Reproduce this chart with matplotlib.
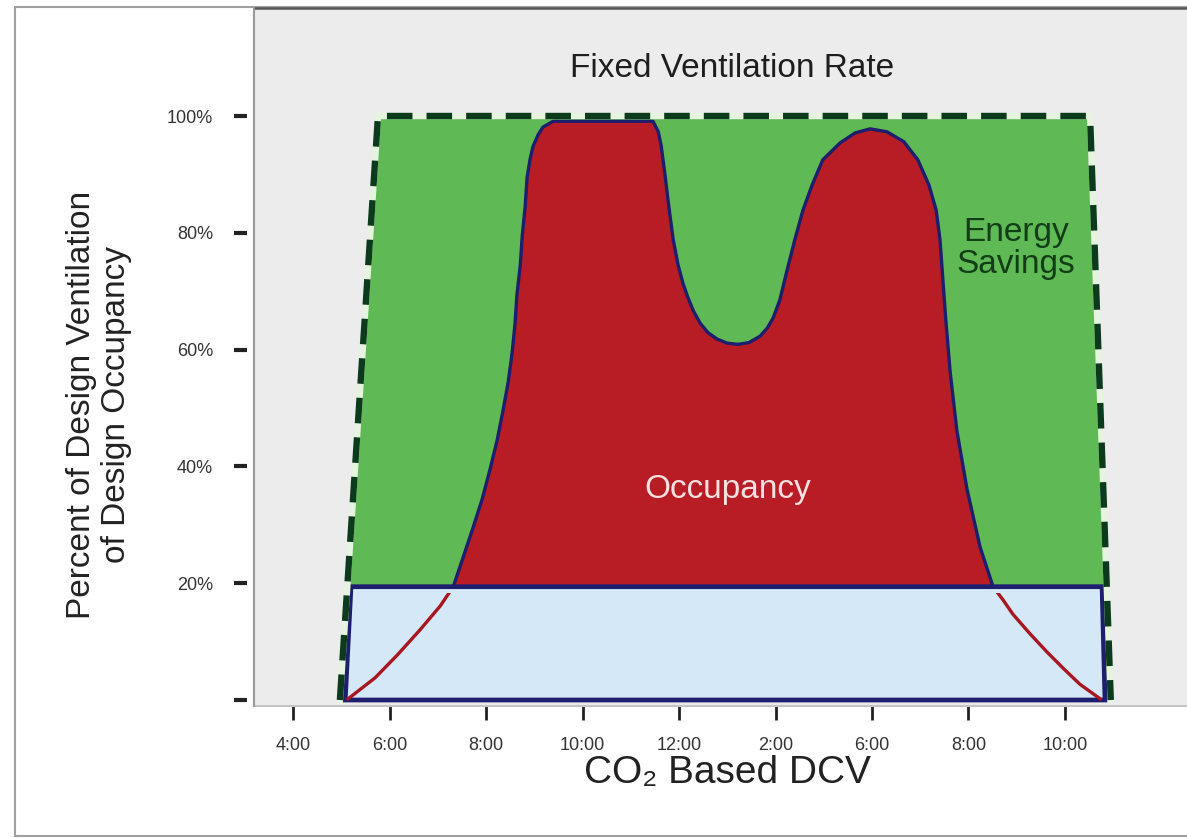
import matplotlib
matplotlib.use('Agg')
import matplotlib.pyplot as plt
from matplotlib.patches import Polygon, Rectangle

plt.rcParams['font.family'] = ['Liberation Sans', 'DejaVu Sans']

# x axis: hours of the day, the labels are written as in the original
tick_hours = [4, 6, 8, 10, 12, 14, 16, 18, 20]
tick_labels = ['4:00', '6:00', '8:00', '10:00', '12:00', '2:00', '6:00', '8:00', '10:00']
pct_ticks = [0, 20, 40, 60, 80, 100]
pct_labels = ['', '20%', '40%', '60%', '80%', '100%']

# occupancy curve (hour, percent)
occ_hours = [5.14, 5.70, 6.16, 6.63, 7.05, 7.32, 7.52, 7.73, 7.92, 8.08,
             8.23, 8.35, 8.46, 8.54, 8.60, 8.64, 8.71, 8.75, 8.81, 8.85,
             8.91, 8.97, 9.08, 9.18, 9.39, 10.36, 11.46, 11.57, 11.63, 11.71,
             11.79, 11.88, 11.98, 12.08, 12.18, 12.30, 12.44, 12.60, 12.79, 13.00,
             13.22, 13.45, 13.68, 13.83, 13.95,
             14.09, 14.24, 14.40, 14.57, 14.76, 14.98, 15.34, 15.65, 15.96, 16.31,
             16.66, 16.95, 17.18, 17.33, 17.41, 17.47, 17.53, 17.62, 17.76, 17.97,
             18.24, 18.51, 18.72, 18.92, 19.28, 19.63, 19.98, 20.31, 20.73]
occ_pct = [0.2, 3.8, 7.7, 12.0, 16.1, 19.4, 24.3, 29.5, 34.4, 39.4,
           44.5, 49.5, 54.5, 59.4, 64.4, 69.4, 74.5, 79.5, 84.4, 89.4,
           92.5, 94.7, 96.8, 98.1, 99.1, 99.1, 99.1, 97.3, 94.9, 89.9,
           84.4, 78.8, 74.5, 71.4, 69.0, 66.6, 64.5, 62.9, 61.8, 61.1,
           60.9, 61.2, 62.3, 63.7, 65.4,
           68.5, 73.6, 78.8, 83.9, 88.2, 92.5, 95.4, 97.1, 97.8, 97.3,
           95.6, 92.5, 88.2, 83.9, 78.8, 71.9, 65.1, 56.2, 46.1, 36.1,
           26.2, 19.4, 17.1, 14.7, 11.3, 8.2, 5.3, 2.7, 0.2]

# fixed ventilation rate outline
fixed_hours = [4.97, 5.76, 20.52, 20.95]
fixed_pct = [0, 100, 100, 0]

# base ventilation rate box
base_hours = [5.08, 5.20, 20.77, 20.83]
base_pct = [0, 19.4, 19.4, 0]

green = '#5fba55'
red = '#b81c25'
navy = '#1e1e6e'
light_blue = '#d5e8f7'
dash_green = '#0c3a1c'

fig = plt.figure(figsize=(11.87, 8.38), dpi=100)
frame = Rectangle((0.0126, 0.0024), 1.2, 0.989, transform=fig.transFigure,
                  facecolor='white', edgecolor='#a0a0a0', linewidth=1.5, zorder=-5)
fig.patches.append(frame)

ax = fig.add_axes([0.214, 0.1575, 0.786, 0.833])
ax.set_facecolor('#ececec')
ax.set_xlim(3.19, 22.53)
ax.set_ylim(-1.03, 118.5)

ax.add_patch(Polygon(list(zip(fixed_hours, fixed_pct)), closed=True,
                     facecolor=green, edgecolor='none', zorder=1))

ax.fill_between(occ_hours, 0, occ_pct, color=red, linewidth=0, zorder=2)
outline, = ax.plot(occ_hours, occ_pct, color=navy, linewidth=2.4, zorder=3,
                   solid_joinstyle='round')
outline.set_clip_path(Rectangle((0, base_pct[1]), 40, 200, transform=ax.transData))

ax.add_patch(Polygon(list(zip(base_hours, base_pct)), closed=True,
                     facecolor=light_blue, edgecolor=navy, linewidth=3.4,
                     joinstyle='miter', zorder=4))
low, = ax.plot(occ_hours, occ_pct, color='#a8161f', linewidth=2.4, zorder=5)
low.set_clip_path(Rectangle((0, -5), 40, base_pct[1] + 4, transform=ax.transData))

ax.plot(fixed_hours, fixed_pct, color='#e6f3df', linewidth=4.6, zorder=6,
        solid_joinstyle='miter')
ax.plot(fixed_hours, fixed_pct, color=dash_green, linewidth=4.6, zorder=7,
        linestyle=(0, (4, 2.2)), dash_joinstyle='miter')

ax.text(13.1, 108.2, 'Fixed Ventilation Rate', ha='center', va='center',
        fontsize=24, color='#1e1e1e')
ax.text(18.98, 77.3, 'Energy\nSavings', ha='center', va='center',
        fontsize=24, color='#123d16', linespacing=1.05)
ax.text(13.0, 36.0, 'Occupancy', ha='center', va='center',
        fontsize=24, color='#f7e1e1')
ax.text(13.02, 10.3, 'Base Ventilation Rate', ha='center', va='center',
        fontsize=24, color='#1e1e2a')

ax.set_xticks(tick_hours)
ax.set_xticklabels(tick_labels)
ax.set_yticks(pct_ticks)
ax.set_yticklabels(pct_labels)

ax.spines['right'].set_visible(False)
ax.spines['top'].set_color('#555555')
ax.spines['top'].set_linewidth(1.8)
ax.spines['bottom'].set_color('#c4c4c4')
ax.spines['bottom'].set_linewidth(1.5)
ax.spines['left'].set_position(('outward', 5))
ax.spines['left'].set_visible(False)
ax.plot([0, 0], [0, 1], transform=ax.transAxes, color='#9a9a9a',
        linewidth=1.5, clip_on=False, zorder=8)

ax.tick_params(axis='y', direction='out', length=9.5, width=3, color='#222222',
               pad=15, labelsize=13, labelcolor='#333333')
ax.tick_params(axis='x', direction='out', length=10, width=2, color='#222222',
               pad=12, labelsize=13, labelcolor='#333333')

fig.text(0.6125, 0.077, 'CO\u2082 Based DCV', ha='center', va='center',
         fontsize=28, color='#222222')
fig.text(0.0834, 0.517, 'Percent of Design Ventilation\nof Design Occupancy',
         ha='center', va='center', rotation=90, fontsize=24, color='#222222',
         multialignment='center', linespacing=1.2)

fig.savefig('out.png', dpi=100)
